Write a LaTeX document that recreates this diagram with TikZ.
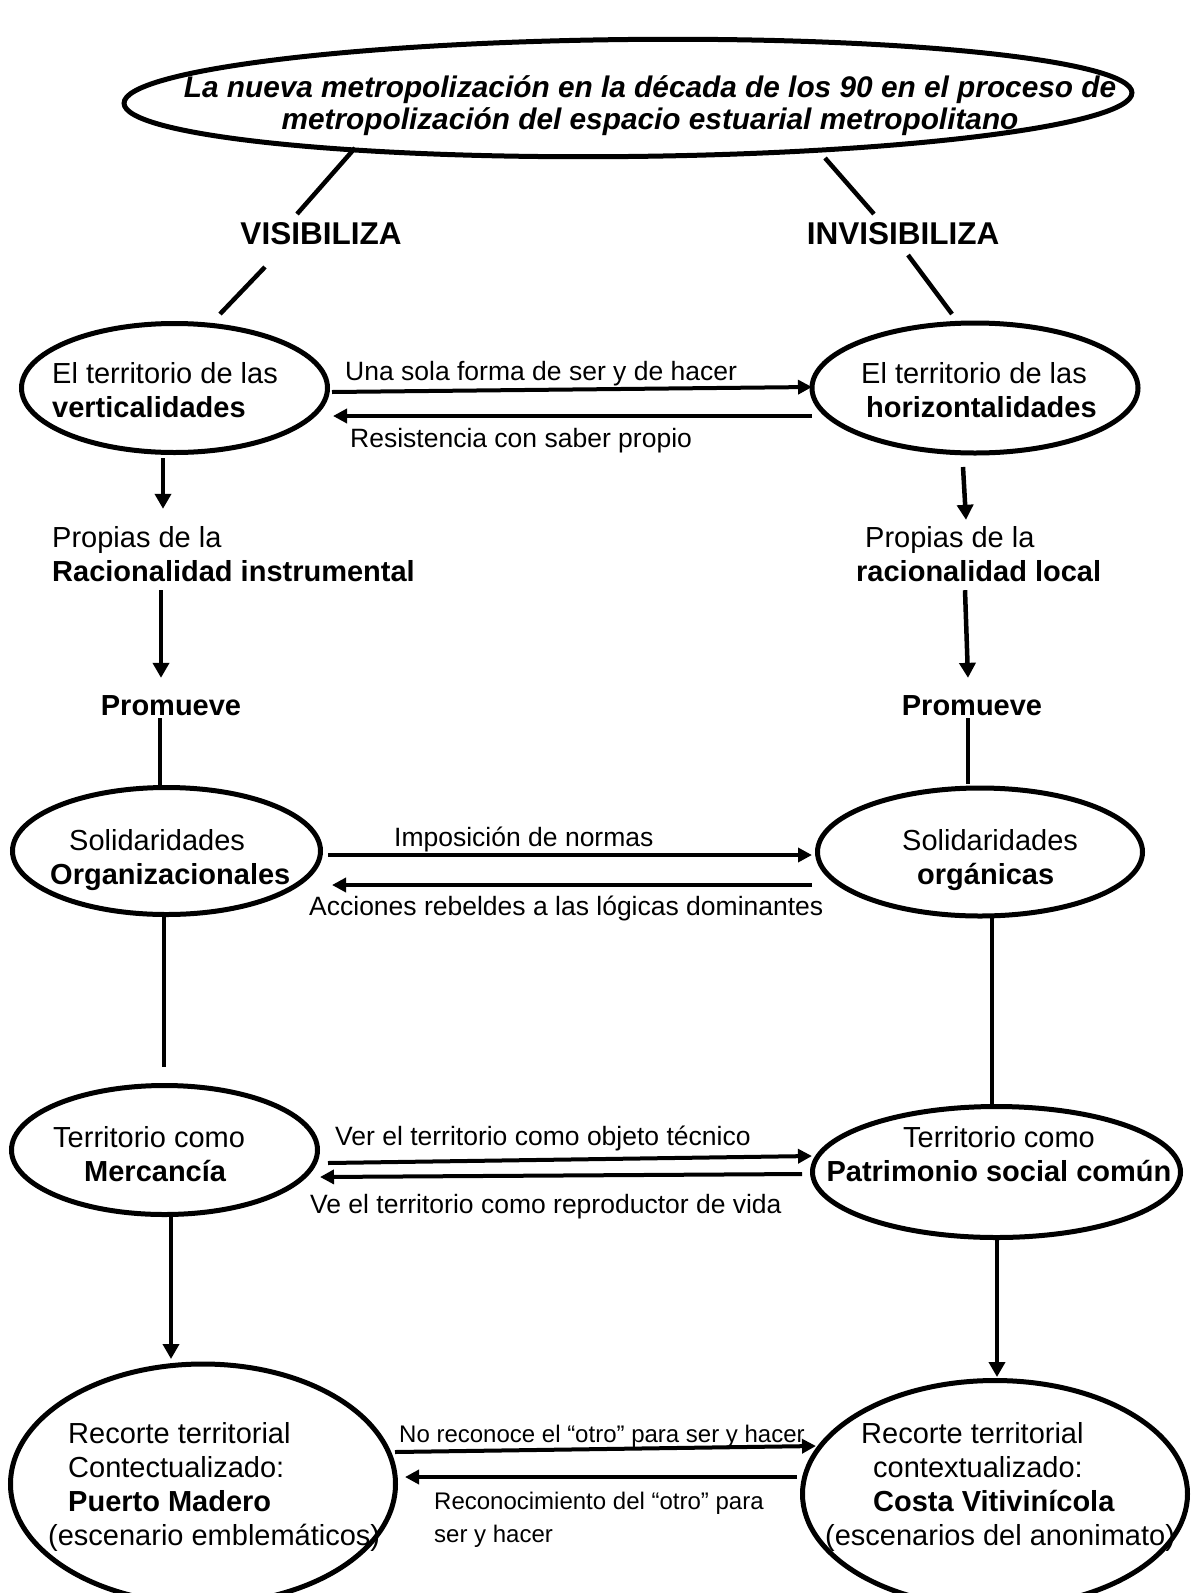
\documentclass[tikz,border=0pt]{standalone}
\usepackage{fontspec}
\setmainfont{Liberation Sans}
\usetikzlibrary{arrows.meta,shapes.geometric,calc}
% stacked lines whose base is the first line's baseline
\newcommand{\txtlines}[2][l]{\begin{tabular}[t]{@{}#1@{}}#2\end{tabular}}
\begin{document}
\begin{tikzpicture}[x=1pt,y=-1pt,
  bubble/.style={draw, ellipse, line width=5pt, inner sep=0pt, outer sep=0pt},
  body/.style={inner sep=0pt, anchor=base west, font=\fontsize{29}{34}\selectfont},
  verb/.style={inner sep=0pt, font=\bfseries\fontsize{31.5}{36}\selectfont},
  promo/.style={inner sep=0pt, anchor=base, font=\bfseries\fontsize{29}{34}\selectfont},
  arrowtext/.style={inner sep=0pt, anchor=base west, font=\fontsize{26.5}{31}\selectfont},
  smalltext/.style={inner sep=0pt, anchor=base west, font=\fontsize{24}{33}\selectfont},
  link/.style={line width=4.5pt},
  flow/.style={line width=4.5pt, -{Triangle[length=15pt,width=16pt]}},
  hflow/.style={line width=4pt, -{Triangle[length=14pt,width=14pt]}},
]
\useasboundingbox[fill=white] (0,0) rectangle (1203,1593);

% ellipses
\node[bubble, minimum width=1008, minimum height=117, rotate=0.6] (top) at (628,98) {};
\node[bubble, minimum width=306, minimum height=129] (L1) at (174.5,388) {};
\node[bubble, minimum width=326, minimum height=130] (R1) at (975,388) {};
\node[bubble, minimum width=308, minimum height=127] (L2) at (166.5,851) {};
\node[bubble, minimum width=325, minimum height=128] (R2) at (980,852) {};
\node[bubble, minimum width=306, minimum height=129] (L3) at (164.5,1150) {};
\node[bubble, minimum width=368, minimum height=131] (R3) at (996.5,1172) {};
\node[bubble, minimum width=385, minimum height=240] (L4) at (203,1484) {};
\node[bubble, minimum width=385, minimum height=227] (R4) at (995,1494) {};

% title
\node[inner sep=0pt, anchor=base, font=\bfseries\itshape\fontsize{29.8}{32}\selectfont] (title) at (650,97)
  {\txtlines[c]{La nueva metropolización en la década de los 90 en el proceso de\\metropolización del espacio estuarial metropolitano}};

\node[verb] (vis) at (321,234) {VISIBILIZA};
\node[verb] (invis) at (903,234) {INVISIBILIZA};

% texts inside and between the ellipses
\node[body] (tL1) at (52,383) {\txtlines{El territorio de las\\\textbf{verticalidades}}};
\node[body] (tR1) at (861,383) {\txtlines{El territorio de las\\\hspace*{5pt}\textbf{horizontalidades}}};
\node[arrowtext] (aR1) at (345,380) {Una sola forma de ser y de hacer};
\node[arrowtext] (aL1) at (350,447) {Resistencia con saber propio};

\node[body] (propL) at (52,547) {\txtlines{Propias de la\\\textbf{Racionalidad instrumental}}};
\node[body] (propR) at (856,547) {\txtlines{\hspace*{9pt}Propias de la\\\textbf{racionalidad local}}};
\node[promo] (promL) at (171,715) {Promueve};
\node[promo] (promR) at (972,715) {Promueve};

\node[body] (tL2) at (50,850) {\txtlines{\hspace*{19pt}Solidaridades\\\textbf{Organizacionales}}};
\node[body] (tR2) at (902,850) {\txtlines{Solidaridades\\\hspace*{15pt}\textbf{orgánicas}}};
\node[arrowtext] (aR2) at (394,846) {Imposición de normas};
\node[arrowtext] (aL2) at (309,915) {Acciones rebeldes a las lógicas dominantes};

\node[body] (tL3) at (53,1147) {\txtlines{Territorio como\\\hspace*{31pt}\textbf{Mercancía}}};
\node[body, anchor=base] (tR3) at (999,1147) {\txtlines[c]{Territorio como\\\textbf{Patrimonio social común}}};
\node[arrowtext] (aR3) at (335,1145) {Ver el territorio como objeto técnico};
\node[arrowtext] (aL3) at (310,1213) {Ve el territorio como reproductor de vida};

\node[body] (tL4) at (48,1443) {\txtlines{\hspace*{20pt}Recorte territorial\\\hspace*{20pt}Contectualizado:\\\hspace*{20pt}\textbf{Puerto Madero}\\(escenario emblemáticos)}};
\node[body] (tR4) at (825,1443) {\txtlines{\hspace*{36pt}Recorte territorial\\\hspace*{48pt}contextualizado:\\\hspace*{48pt}\textbf{Costa Vitivinícola}\\(escenarios del anonimato)}};
\node[smalltext] (aR4) at (399,1442) {No reconoce el “otro” para ser y hacer};
\node[smalltext] (aL4) at (434,1509) {\txtlines{Reconocimiento del “otro” para\\ser y hacer}};

% diagonal links from the title
\draw[link] ($(top.center)+(-273,50)$) -- ($(vis.center)+(-24,-20)$);
\draw[link] ($(vis.center)+(-56,33)$) -- ($(L1.north)+(45.5,-9.5)$);
\draw[link] ($(top.center)+(197,60)$) -- ($(invis.center)+(-29,-20)$);
\draw[link] ($(invis.center)+(5,21)$) -- ($(R1.north)+(-23,-9)$);

% horizontal exchanges
\draw[hflow] ($(L1.east)+(4.5,4)$) -- ($(R1.west)+(0,-1)$);
\draw[hflow] ($(R1.west)+(0,28)$) -- ($(L1.east)+(5.5,28)$);
\draw[hflow] ($(L2.east)+(7.5,4)$) -- ($(R2.west)+(-5.5,3)$);
\draw[hflow] ($(R2.west)+(-5.5,33)$) -- ($(L2.east)+(11.5,34)$);
\draw[hflow] ($(L3.east)+(10.5,13)$) -- ($(R3.west)+(-0.5,-16)$);
\draw[hflow] ($(R3.west)+(-10.5,2)$) -- ($(L3.east)+(2.5,27)$);
\draw[hflow] ($(L4.east)+(-0.5,-32)$) -- ($(R4.west)+(13.5,-48)$);
\draw[hflow] ($(R4.west)+(-5.5,-17)$) -- ($(L4.east)+(9.5,-7)$);

% left column
\draw[flow] ($(L1.south)+(-11.5,5.5)$) -- ($(propL.north west)+(111,-14.2)$);
\draw[flow] ($(propL.south west)+(109,-1.2)$) -- ($(promL.north)+(-10,-17)$);
\draw[link] ($(promL.south)+(-11,3)$) -- ($(L2.north)+(-6.5,-2.5)$);
\draw[link] ($(L2.south)+(-2.5,2.5)$) -- ($(L3.north)+(-0.5,-18.5)$);
\draw[flow] ($(L3.south)+(6.5,0.5)$) -- ($(L4.north)+(-32,-5)$);

% right column
\draw[flow] ($(R1.south)+(-12,14)$) -- ($(propR.north west)+(110,-3.2)$);
\draw[flow] ($(propR.south west)+(109,-1.2)$) -- ($(promR.north)+(-4,-17)$);
\draw[link] ($(promR.south)+(-4,3)$) -- ($(R2.north)+(-12,-4)$);
\draw[link] ($(R2.south)+(12,2)$) -- ($(R3.north)+(-4.5,-1.5)$);
\draw[flow] ($(R3.south)+(0.5,2.5)$) -- ($(R4.north)+(2,-3.5)$);
\end{tikzpicture}
\end{document}
